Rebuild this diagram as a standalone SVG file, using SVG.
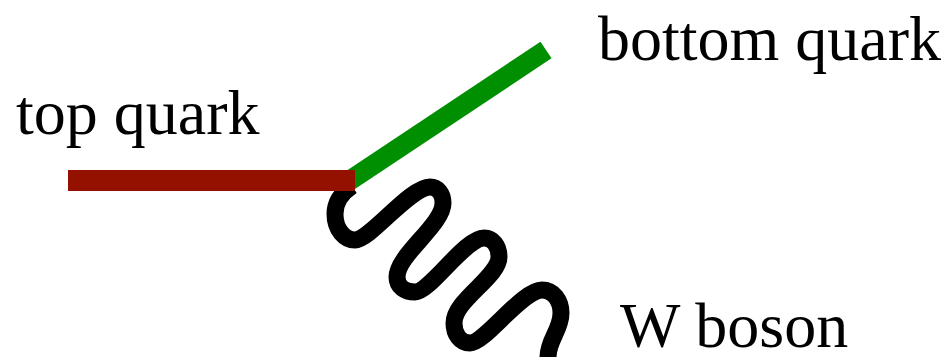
<svg xmlns="http://www.w3.org/2000/svg" width="950" height="360" viewBox="0 0 950 360">
  <style>
    .label { font-family: "Liberation Serif", "Times New Roman", serif; font-size: 64px; fill: #000; }
    .top { fill: #941100; }
    .bottom { fill: none; stroke: #008f00; stroke-width: 20; stroke-linecap: butt; }
    .boson { fill: none; stroke: #000; stroke-width: 17; stroke-linecap: butt; stroke-linejoin: round; }
  </style>
  <rect width="950" height="360" fill="#fff"/>

  <!-- particle lines meeting at the vertex -->
  <g id="connectors">
    <line id="bottom-line" class="bottom" x1="340" y1="187" x2="546" y2="50"/>
    <path id="w-line" class="boson" d="M352,186 C340,194 335,204 335,214 C335,230 345,240 355,240 C370,240 410,187 430,187 C438,187 443,194 443,203 C443,225 397,255 397,277 C397,287 405,292 415,292 C430,292 465,238 484,238 C493,238 499,246 499,257 C499,277 454,300 454,323 C454,334 460,343 470,343 C485,343 522,290 542,290 C553,290 561,300 561,313 C561,330 548,340 548,357"/>
    <rect id="top-line" class="top" x="68" y="170" width="287" height="21"/>
  </g>

  <g id="top-quark">
    <text class="label" x="16" y="134">top quark</text>
  </g>
  <g id="bottom-quark">
    <text class="label" x="598" y="60">bottom quark</text>
  </g>
  <g id="w-boson">
    <text class="label" x="620" y="347">W boson</text>
  </g>
</svg>
